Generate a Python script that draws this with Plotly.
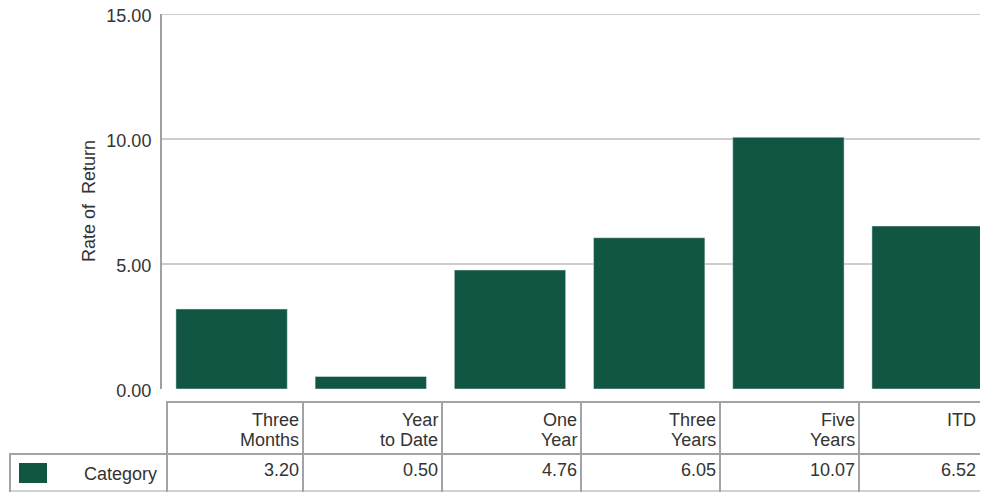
import plotly.graph_objects as go

categories = ["Three Months", "Year to Date", "One Year", "Three Years", "Five Years", "ITD"]
header_line1 = ["Three", "Year", "One", "Three", "Five", "ITD"]
header_line2 = ["Months", "to Date", "Year", "Years", "Years", ""]
values = [3.20, 0.50, 4.76, 6.05, 10.07, 6.52]
series_name = "Category"
y_ticks = [0, 5, 10, 15]
y_tick_labels = ["0.00", "5.00", "10.00", "15.00"]

OFF = 8  # page body margin
W, H = 988 - OFF, 492 - OFF
L, R, T, B = 162 - OFF, 988 - OFF, 14 - OFF, 389 - OFF
BAR = "#115543"
GRID = "#cccccc"
BORDER = "#a3a3a3"
TXT = "#333333"
FONT = "Liberation Sans, Arial, sans-serif"
FS = 18


def px(x):
    x = x - OFF
    return (x - L) / (R - L)


def py(y):
    y = y - OFF
    return (B - y) / (B - T)


fig = go.Figure()
fig.add_trace(go.Bar(x=list(range(len(values))), y=values, marker_color=BAR,
                     name=series_name, showlegend=False))

shapes = []
annotations = []

def hline(y, x0, x1, color=BORDER, w=2):
    shapes.append(dict(type="line", xref="paper", yref="paper", x0=px(x0), x1=px(x1),
                       y0=py(y), y1=py(y), line=dict(color=color, width=w)))

def vline(x, y0, y1, color=BORDER, w=2):
    shapes.append(dict(type="line", xref="paper", yref="paper", x0=px(x), x1=px(x),
                       y0=py(y0), y1=py(y1), line=dict(color=color, width=w)))

# top gridline (plotly skips gridlines at the range ends)
shapes.append(dict(type="line", xref="paper", yref="y", x0=0, x1=1, y0=y_ticks[-1], y1=y_ticks[-1],
                   line=dict(color=GRID, width=2), layer="below"))

# table grid
hline(402, 166, 1000)
hline(454, 9, 1000)
hline(491, 9, 1000, color="#d0d0d0")
vline(10, 453, 495)
vline(167, 401, 495)
borders = [303, 442, 581, 720, 859, 998]
for b in borders[:-1]:
    vline(b, 401, 495)

# legend swatch
shapes.append(dict(type="rect", xref="paper", yref="paper", x0=px(19), x1=px(47),
                   y0=py(483), y1=py(463), fillcolor=BAR, line=dict(width=0)))

def txt(x, y, s, anchor="right"):
    annotations.append(dict(xref="paper", yref="paper", x=px(x), y=py(y), text=s,
                            showarrow=False, xanchor=anchor, yanchor="middle",
                            font=dict(family=FONT, size=FS, color=TXT)))

for i in range(len(values)):
    rx = min(borders[i] - 2, 978)
    txt(rx, 420, header_line1[i])
    if header_line2[i]:
        txt(rx, 440, header_line2[i])
    txt(rx, 470, f"{values[i]:.2f}")

txt(159, 474, series_name)

# y-axis title
annotations.append(dict(xref="paper", yref="paper", x=px(89), y=py(201), text="Rate of  Return",
                        showarrow=False, textangle=-90, xanchor="center", yanchor="middle",
                        font=dict(family=FONT, size=FS, color=TXT)))

fig.update_layout(
    width=W, height=H, autosize=False,
    margin=dict(l=L, r=W - R, t=T, b=H - B, pad=0),
    paper_bgcolor="white", plot_bgcolor="white",
    bargap=0.2,
    showlegend=False,
    shapes=shapes,
    annotations=annotations,
    xaxis=dict(range=[-0.5, -0.5 + (R - L) / 139.2], showticklabels=False, showgrid=False,
               zeroline=False, showline=False, ticks="", automargin=False),
    yaxis=dict(range=[0, 15], tickvals=y_ticks, ticktext=y_tick_labels, showgrid=True,
               gridcolor=GRID, gridwidth=2, zeroline=False, showline=True, linecolor="#a0a0a0",
               linewidth=2, ticks="", ticklabelstandoff=5, ticklabelshift=2,
               ticklabeloverflow="allow", automargin=False,
               tickfont=dict(family=FONT, size=FS, color=TXT)),
    font=dict(family=FONT, size=FS, color=TXT),
)

fig.write_html("out.html")
